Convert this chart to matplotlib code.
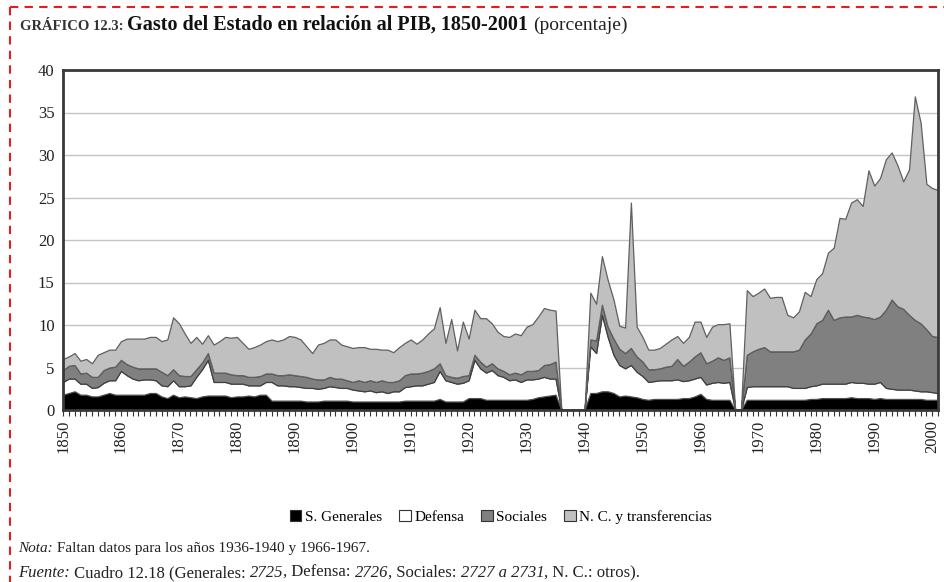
import numpy as np
import matplotlib
matplotlib.use("Agg")
import matplotlib.pyplot as plt
from matplotlib.patches import Patch
from matplotlib.lines import Line2D

years = list(range(1850, 2002))

generales = [
    1.8, 2.0, 2.2, 1.8, 1.8, 1.6, 1.6, 1.8, 2.0, 1.8,   # 1850-59
    1.8, 1.8, 1.8, 1.8, 1.8, 2.0, 2.0, 1.6, 1.4, 1.8,   # 1860-69
    1.5, 1.6, 1.5, 1.4, 1.6, 1.7, 1.7, 1.7, 1.7, 1.5,   # 1870-79
    1.6, 1.6, 1.7, 1.6, 1.8, 1.8, 1.1, 1.1, 1.1, 1.1,   # 1880-89
    1.1, 1.1, 1.0, 1.0, 1.0, 1.1, 1.1, 1.1, 1.1, 1.1,   # 1890-99
    1.0, 1.0, 1.0, 1.0, 1.0, 1.0, 1.0, 1.0, 1.0, 1.1,   # 1900-09
    1.1, 1.1, 1.1, 1.1, 1.1, 1.3, 1.0, 1.0, 1.0, 1.0,   # 1910-19
    1.4, 1.4, 1.4, 1.2, 1.2, 1.2, 1.2, 1.2, 1.2, 1.2,   # 1920-29
    1.2, 1.3, 1.5, 1.6, 1.7, 1.8, 0.0, 0.0, 0.0, 0.0,   # 1930-39
    0.0, 2.0, 2.0, 2.2, 2.2, 2.0, 1.6, 1.7, 1.6, 1.5,   # 1940-49
    1.3, 1.2, 1.3, 1.3, 1.3, 1.3, 1.3, 1.4, 1.4, 1.6,   # 1950-59
    1.9, 1.3, 1.2, 1.2, 1.2, 1.2, 0.0, 0.0, 1.2, 1.2,   # 1960-69
    1.2, 1.2, 1.2, 1.2, 1.2, 1.2, 1.2, 1.2, 1.2, 1.3,   # 1970-79
    1.3, 1.4, 1.4, 1.4, 1.4, 1.4, 1.5, 1.4, 1.4, 1.4,   # 1980-89
    1.3, 1.4, 1.3, 1.3, 1.3, 1.3, 1.3, 1.3, 1.3, 1.2,   # 1990-99
    1.2, 1.2,                                           # 2000-01
]

defensa = [
    1.5, 1.7, 1.5, 1.3, 1.3, 1.0, 1.1, 1.4, 1.5, 1.7,
    2.8, 2.3, 1.9, 1.7, 1.8, 1.6, 1.5, 1.3, 1.4, 1.7,
    1.3, 1.2, 1.4, 2.5, 3.2, 4.2, 1.6, 1.6, 1.6, 1.6,
    1.5, 1.5, 1.2, 1.3, 1.1, 1.5, 2.2, 1.8, 1.8, 1.7,
    1.7, 1.6, 1.6, 1.6, 1.5, 1.5, 1.7, 1.6, 1.5, 1.5,
    1.4, 1.3, 1.2, 1.3, 1.1, 1.2, 1.0, 1.2, 1.2, 1.6,
    1.7, 1.8, 1.8, 2.0, 2.2, 3.3, 2.5, 2.3, 2.1, 2.2,
    2.1, 4.5, 3.5, 3.2, 3.5, 2.9, 2.7, 2.3, 2.4, 2.1,
    2.4, 2.3, 2.2, 2.3, 2.0, 1.9, 0.0, 0.0, 0.0, 0.0,
    0.0, 5.5, 4.7, 9.0, 6.4, 4.5, 3.7, 3.2, 3.7, 3.0,
    2.7, 2.1, 2.1, 2.2, 2.2, 2.2, 2.3, 2.0, 2.1, 2.1,
    2.0, 1.7, 2.0, 2.1, 2.0, 2.1, 0.0, 0.0, 1.5, 1.6,
    1.6, 1.6, 1.6, 1.6, 1.6, 1.6, 1.4, 1.4, 1.4, 1.5,
    1.6, 1.7, 1.7, 1.7, 1.7, 1.7, 1.8, 1.8, 1.8, 1.7,
    1.8, 1.9, 1.3, 1.2, 1.1, 1.1, 1.1, 1.0, 0.9, 1.0,
    0.9, 0.8,
]

sociales = [
    1.4, 1.5, 1.6, 1.2, 1.3, 1.3, 1.2, 1.5, 1.5, 1.6,
    1.3, 1.3, 1.4, 1.4, 1.3, 1.3, 1.4, 1.6, 1.3, 1.3,
    1.3, 1.2, 1.1, 0.9, 0.8, 0.8, 1.1, 1.1, 1.1, 1.1,
    1.0, 1.0, 1.0, 1.0, 1.1, 1.0, 1.0, 1.2, 1.2, 1.4,
    1.3, 1.3, 1.3, 1.1, 1.1, 1.0, 1.1, 1.0, 1.1, 0.9,
    0.9, 1.2, 1.1, 1.2, 1.2, 1.3, 1.3, 1.1, 1.3, 1.4,
    1.5, 1.4, 1.5, 1.5, 1.6, 0.9, 0.6, 0.6, 0.7, 0.8,
    0.6, 0.6, 0.8, 0.7, 0.8, 0.8, 0.7, 0.7, 0.8, 0.9,
    1.0, 1.0, 1.0, 1.4, 1.7, 2.0, 0.0, 0.0, 0.0, 0.0,
    0.0, 0.8, 1.5, 1.2, 1.2, 1.9, 1.9, 1.8, 2.0, 1.8,
    1.7, 1.5, 1.4, 1.4, 1.6, 1.7, 2.4, 1.8, 2.2, 2.6,
    2.9, 2.5, 2.6, 2.9, 2.7, 2.9, 0.0, 0.0, 3.8, 4.1,
    4.4, 4.6, 4.1, 4.1, 4.1, 4.1, 4.3, 4.5, 5.7, 6.2,
    7.3, 7.5, 8.7, 7.5, 7.8, 7.9, 7.7, 8.0, 7.8, 7.8,
    7.6, 7.7, 9.2, 10.5, 9.8, 9.5, 8.8, 8.3, 8.0, 7.3,
    6.6, 6.6,
]

nc_transferencias = [
    1.3, 1.1, 1.4, 1.5, 1.6, 1.6, 2.6, 2.1, 2.1, 2.0,
    2.2, 3.0, 3.3, 3.5, 3.5, 3.7, 3.7, 3.6, 4.2, 6.1,
    6.1, 5.0, 3.9, 3.8, 2.2, 2.1, 3.3, 3.7, 4.2, 4.3,
    4.5, 3.8, 3.3, 3.5, 3.7, 3.8, 4.0, 4.0, 4.2, 4.5,
    4.5, 4.3, 3.6, 3.0, 4.1, 4.3, 4.4, 4.6, 4.0, 4.0,
    4.0, 3.9, 4.1, 3.7, 3.9, 3.6, 3.8, 3.5, 3.9, 3.8,
    4.0, 3.5, 3.9, 4.4, 4.7, 6.6, 3.8, 6.8, 3.2, 6.4,
    4.3, 5.3, 5.1, 5.7, 4.7, 4.3, 4.1, 4.4, 4.6, 4.6,
    5.2, 5.5, 6.3, 6.7, 6.4, 6.0, 0.0, 0.0, 0.0, 0.0,
    0.0, 5.5, 4.3, 5.7, 5.5, 4.6, 2.7, 3.0, 17.1, 3.5,
    2.9, 2.3, 2.3, 2.4, 2.7, 3.1, 2.7, 2.7, 2.9, 4.1,
    3.6, 3.1, 4.0, 3.9, 4.2, 4.0, 0.0, 0.0, 7.6, 6.5,
    6.6, 6.9, 6.3, 6.4, 6.4, 4.3, 4.0, 4.5, 5.6, 4.4,
    5.2, 5.5, 6.7, 8.5, 11.7, 11.5, 13.4, 13.6, 13.0, 17.3,
    15.7, 16.3, 17.7, 17.3, 16.6, 15.0, 17.1, 26.3, 23.6, 17.1,
    17.4, 17.3,
]

series_names = ["S. Generales", "Defensa", "Sociales", "N. C. y transferencias"]
y_ticks = [0, 5, 10, 15, 20, 25, 30, 35, 40]
x_label_years = list(range(1850, 2001, 10))

fills = ["#000000", "#ffffff", "#808080", "#c0c0c0"]
edges = ["#000000", "#505050", "#404040", "#606060"]

serif = ["Liberation Serif", "DejaVu Serif"]
plt.rcParams["font.family"] = serif

fig = plt.figure(figsize=(9.44, 5.82), dpi=100)
fig.patch.set_facecolor("white")
W, H = 944, 582
ax = fig.add_axes([63 / W, 1 - 410 / H, (938 - 63) / W, (410 - 70) / H])

polys = ax.stackplot(years, generales, defensa, sociales, nc_transferencias,
                     colors=fills, zorder=2)
for p, ec in zip(polys, edges):
    p.set_edgecolor(ec)
    p.set_linewidth(0.9)

ax.set_xlim(1850, 2001)
ax.set_ylim(0, 40)
ax.set_yticks(y_ticks)
ax.set_yticklabels([str(v) for v in y_ticks], fontsize=12, color="#222222")
ax.yaxis.grid(True, color="#c4c4c4", linewidth=1.0, zorder=0)
ax.set_axisbelow(True)
ax.tick_params(axis="y", length=0, pad=6)

ax.set_xticks(x_label_years)
ax.set_xticklabels([str(v) for v in x_label_years], rotation=90, fontsize=12,
                   color="#222222")
ax.set_xticks(years, minor=True)
ax.tick_params(axis="x", which="both", direction="out", length=4, width=0.8,
               color="#333333", pad=3)

for s in ax.spines.values():
    s.set_linewidth(2.0)
    s.set_color("#3a3a3a")

renderer = fig.canvas.get_renderer()

def seq_text(parts, x0, y0):
    x = x0
    for txt, kw in parts:
        t = fig.text(x / W, 1 - y0 / H, txt, va="baseline", ha="left", **kw)
        bb = t.get_window_extent(renderer=renderer)
        x += bb.width
    return x

# Title
seq_text([("GRÁFICO 12.3: ", dict(fontsize=10.5, fontweight="bold", color="#333333")),
          ("Gasto del Estado en relación al PIB, 1850-2001 ",
           dict(fontsize=14.5, fontweight="bold", color="#111111")),
          ("(porcentaje)", dict(fontsize=14, color="#222222"))], 20, 30)

# Legend
handles = [Patch(facecolor=c, edgecolor="#333333", linewidth=0.8) for c in fills]
fig.legend(handles, series_names, loc="center", ncol=4,
           bbox_to_anchor=(501 / W, 1 - 517 / H), frameon=False,
           fontsize=11, handlelength=0.75, handleheight=0.75,
           handletextpad=0.25, columnspacing=1.1)

# Notes
seq_text([("Nota:", dict(fontsize=11, style="italic", color="#222222")),
          (" Faltan datos para los años 1936-1940 y 1966-1967.",
           dict(fontsize=11, color="#222222"))], 18, 552)
fs = 12
seq_text([("Fuente:", dict(fontsize=fs, style="italic", color="#222222")),
          (" Cuadro 12.18 (Generales: ", dict(fontsize=fs, color="#222222")),
          ("2725", dict(fontsize=fs, style="italic", color="#222222")),
          (", Defensa: ", dict(fontsize=fs, color="#222222")),
          ("2726", dict(fontsize=fs, style="italic", color="#222222")),
          (", Sociales: ", dict(fontsize=fs, color="#222222")),
          ("2727 a 2731", dict(fontsize=fs, style="italic", color="#222222")),
          (", N. C.: otros).", dict(fontsize=fs, color="#222222"))], 18, 577)

# Red dashed frame
fig.add_artist(Line2D([10 / W, 1.0], [1 - 7 / H, 1 - 7 / H], color="#e02020",
                      linewidth=1.5, linestyle=(0, (4, 3)), transform=fig.transFigure))
fig.add_artist(Line2D([10 / W, 10 / W], [1 - 7 / H, 0.0], color="#e02020",
                      linewidth=1.5, linestyle=(0, (4, 3)), transform=fig.transFigure))

fig.savefig("out.png", dpi=100)
